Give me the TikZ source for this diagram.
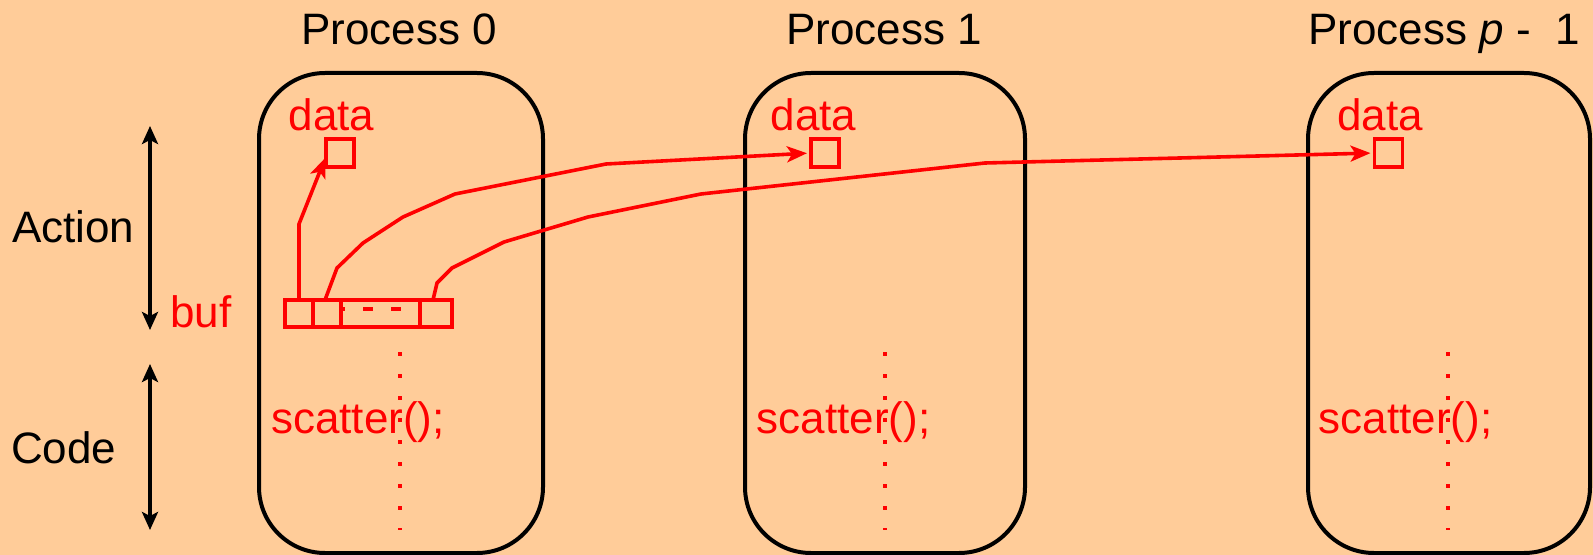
\documentclass[tikz,border=0pt]{standalone}
\usepackage{fontspec}
\setmainfont{Liberation Sans}
\usetikzlibrary{arrows.meta,calc}
\definecolor{bgpeach}{RGB}{255,204,153}
\definecolor{pred}{RGB}{255,0,0}
\begin{document}
\begin{tikzpicture}[x=0.5pt,y=-0.5pt,
  every node/.style={inner sep=0pt, outer sep=0pt},
  lbl/.style={font=\fontsize{22pt}{26pt}\selectfont, anchor=base},
  redlbl/.style={lbl, text=pred},
  procbox/.style={draw=black, line width=2pt, rounded corners=33pt, minimum height=240pt},
  cell/.style={draw=pred, line width=1.8pt, minimum height=13.5pt},
  datasq/.style={draw=pred, line width=1.8pt, minimum width=14pt, minimum height=14pt},
  redarrow/.style={draw=pred, line width=1.8pt, -{Stealth[length=10pt,width=8pt,inset=2.5pt]}},
  dimarrow/.style={draw=black, line width=1.8pt, {Stealth[length=9pt,width=8pt,inset=2pt]}-{Stealth[length=9pt,width=8pt,inset=2pt]}},
  dotline/.style={draw=pred, line width=2.2pt, dash pattern=on 2pt off 9pt},
  dashmid/.style={draw=pred, line width=2pt, dash pattern=on 5pt off 9pt, dash phase=3.5pt}
]
\fill[bgpeach] (0,0) rectangle (1593,555);
\useasboundingbox (0,0) rectangle (1593,555);

% titles
\node[lbl] (t0) at (399,45) {Process 0};
\node[lbl] (t1) at (884,45) {Process 1};
\node[lbl] (t2) at (1444,45) {Process \textit{p} -~~1};

% process boxes
\node[procbox, minimum width=142pt] (P0) at (401,313) {};
\node[procbox, minimum width=140pt] (P1) at (885,313) {};
\node[procbox, minimum width=141pt] (P2) at (1449,313) {};

% left labels and dimension arrows
\node[lbl, anchor=base west] (act) at (12,243) {Action};
\node[lbl, anchor=base west] (code) at (11,463) {Code};
\coordinate (aTop) at (150,126);
\coordinate (aBot) at (150,330);
\coordinate (cTop) at (150,364);
\coordinate (cBot) at (150,530);
\draw[dimarrow] (aTop) -- (aBot);
\draw[dimarrow] (cTop) -- (cBot);
\node[redlbl] (buf) at (201,328) {buf};

% dotted code lines
\coordinate (d0a) at (400,352); \coordinate (d0b) at (400,530);
\coordinate (d1a) at (885,352); \coordinate (d1b) at (885,530);
\coordinate (d2a) at (1448,352); \coordinate (d2b) at (1448,530);
\draw[dotline] (d0a) -- (d0b);
\draw[dotline] (d1a) -- (d1b);
\draw[dotline] (d2a) -- (d2b);

% scatter text
\node[redlbl] (s0) at (358,433) {scatter();};
\node[redlbl] (s1) at (843.5,433) {scatter();};
\node[redlbl] (s2) at (1405.5,433) {scatter();};

% data labels and squares
\node[redlbl] (l0) at (331.5,131) {data};
\node[redlbl] (l1) at (813.5,131) {data};
\node[redlbl] (l2) at (1380,131) {data};
\node[datasq] (D0) at (340,153) {};
\node[datasq] (D1) at (825,153) {};
\node[datasq] (D2) at (1388.5,153) {};

% buffer cells
\node[cell, minimum width=14pt] (b1) at (299,313.5) {};
\node[cell, minimum width=14pt] (b2) at (327,313.5) {};
\node[cell, minimum width=39.5pt] (bm) at (380.5,313.5) {};
\node[cell, minimum width=16pt] (b4) at (436,313.5) {};
\draw[dashmid] ($(bm.west)+(1,-4)$) -- ($(bm.east)+(-2,-4)$);

% arrows
\draw[redarrow, shorten >=1pt] (b1.north) -- (299,224) -- ($(D0.west)+(0,3)$);
\draw[redarrow, shorten >=2pt] ($(b2.north)+(-2,0)$) -- (337,268) -- (363,243) -- (403,217) -- (455,194) -- (606,164) -- (D1.west);
\draw[redarrow, shorten >=2pt] ($(b4.north)+(-3,0)$) -- (437,283) -- (452,268) -- (504,242) -- (588,217) -- (701,194) -- (985,163) -- (D2.west);
\end{tikzpicture}
\end{document}
